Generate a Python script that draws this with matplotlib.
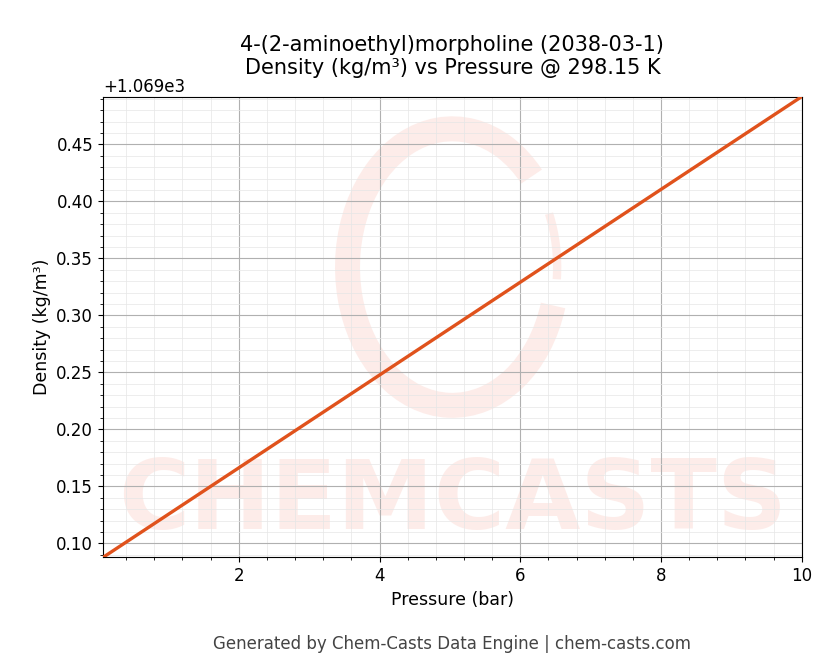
import matplotlib
matplotlib.use("Agg")
import matplotlib.pyplot as plt
from matplotlib.patches import Arc
from matplotlib.ticker import AutoMinorLocator

# Data
pressure_bar = [0.07, 10.0]
density = [1069.0877, 1069.492]

fig = plt.figure(figsize=(8.3, 6.66), dpi=100)
ax = fig.add_axes([0.124, 0.163, 0.842, 0.692])

ax.plot(pressure_bar, density, color="#e0521c", lw=2.4, zorder=3)
ax.set_xlim(0.07, 10)
ax.set_ylim(1069.0877, 1069.492)

ax.xaxis.set_minor_locator(AutoMinorLocator(5))
ax.yaxis.set_minor_locator(AutoMinorLocator(5))
ax.grid(which="major", color="#b0b0b0", lw=0.8)
ax.grid(which="minor", color="#e6e6e6", lw=0.5)
ax.tick_params(labelsize=12)
ax.yaxis.get_offset_text().set_fontsize(12)

ax.set_xlabel("Pressure (bar)", fontsize=12.5)
ax.set_ylabel("Density (kg/m³)", fontsize=12.5)
ax.set_title("4-(2-aminoethyl)morpholine (2038-03-1)\nDensity (kg/m³) vs Pressure @ 298.15 K",
             fontsize=15, pad=16)

# watermark
wm = "#fde8e4"
ax.text(0.5, 0.12, "CHEMCASTS", transform=ax.transAxes, ha="center", va="center",
        fontsize=70, fontweight="bold", color=wm, alpha=0.8, zorder=1, clip_on=True)
arc = Arc((0.5, 0.63), 0.3, 0.6, theta1=-10, theta2=40, transform=ax.transAxes,
          color=wm, lw=6, alpha=0.8, zorder=1)
ax.add_patch(arc)
arc2 = Arc((0.5, 0.63), 0.3, 0.6, theta1=60, theta2=330, transform=ax.transAxes,
           color=wm, lw=18, alpha=0.8, zorder=1)
ax.add_patch(arc2)

fig.text(0.545, 0.025, "Generated by Chem-Casts Data Engine | chem-casts.com",
         ha="center", fontsize=12, color="#444444")

fig.savefig("out.png", dpi=100)
